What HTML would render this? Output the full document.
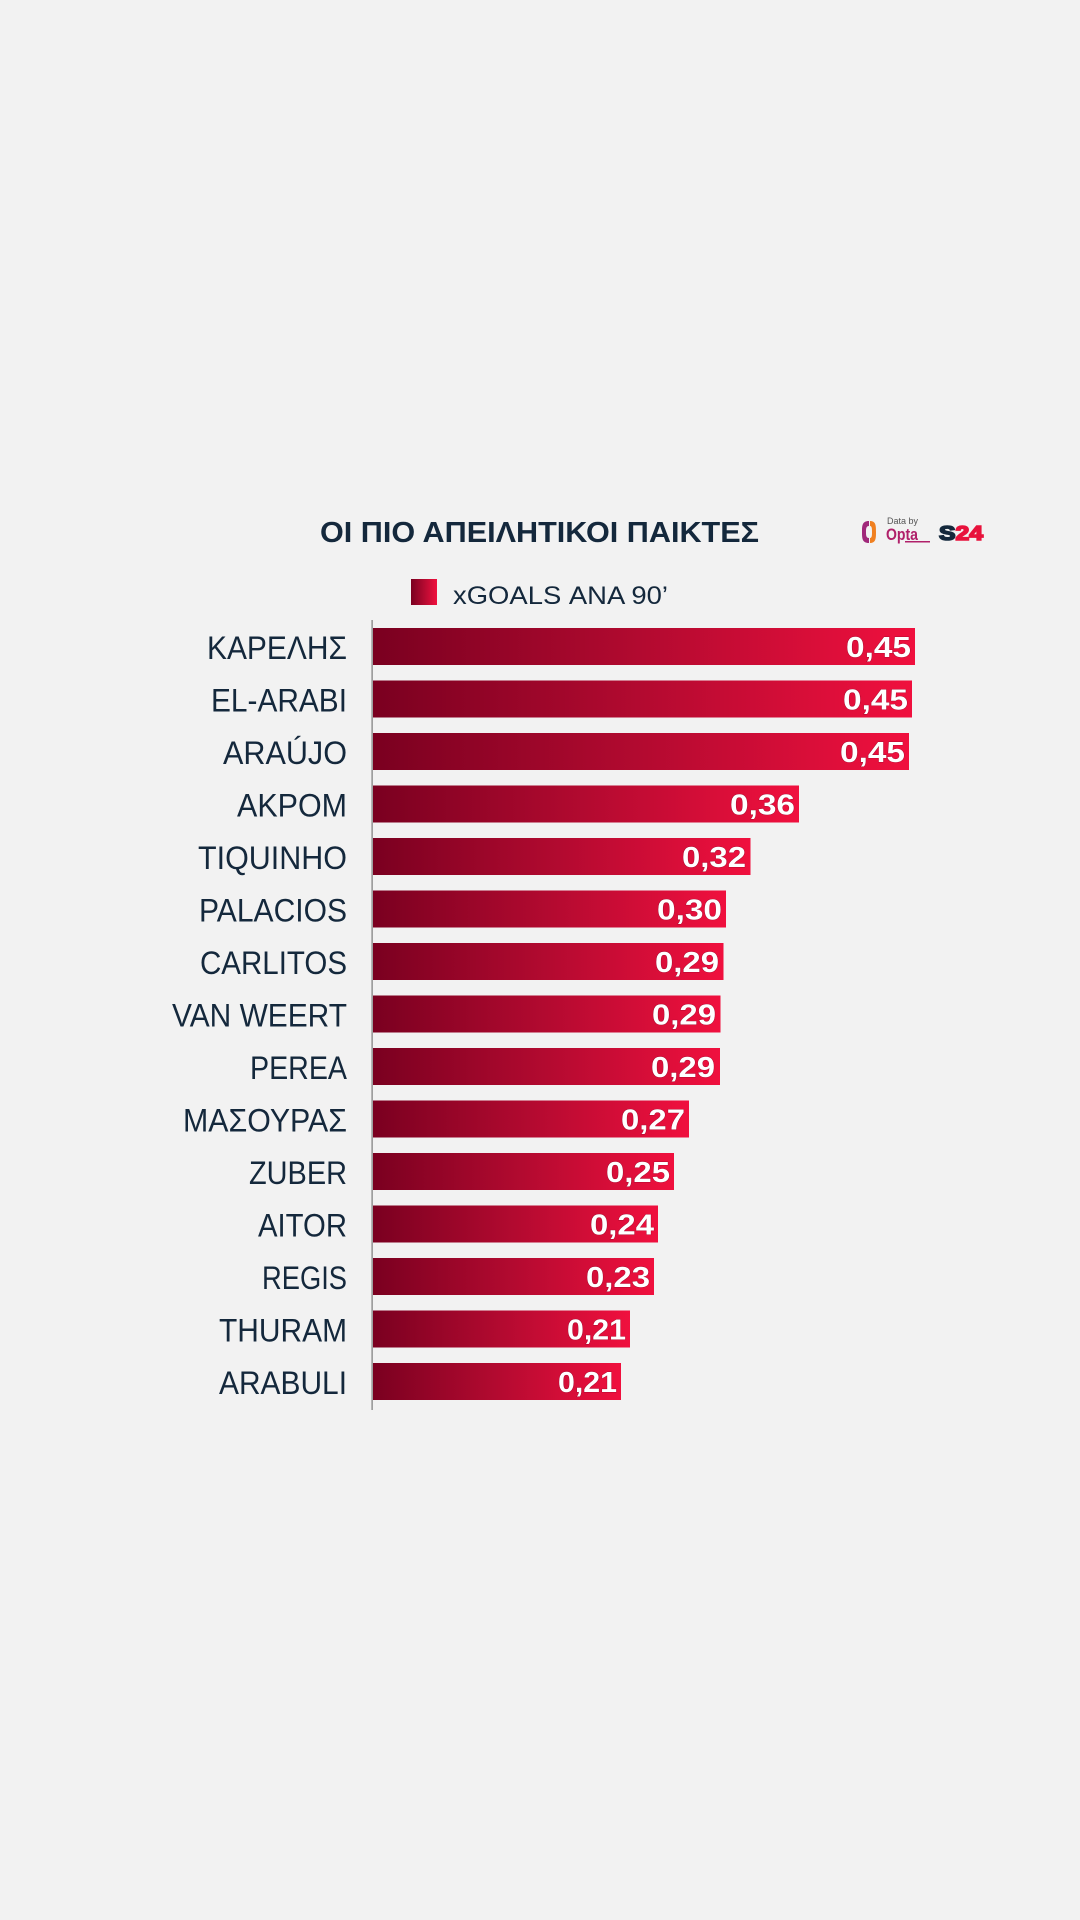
<!DOCTYPE html>
<html>
<head>
<meta charset="utf-8">
<style>
html,body{margin:0;padding:0;background:#f2f2f2;}
svg{display:block;}
</style>
</head>
<body>
<svg width="1080" height="1920" viewBox="0 0 1080 1920" xmlns="http://www.w3.org/2000/svg">
<defs>
<linearGradient id="g" x1="0" y1="0" x2="1" y2="0">
<stop offset="0" stop-color="#7a0020"/>
<stop offset="0.5" stop-color="#b30a30"/>
<stop offset="1" stop-color="#f0103e"/>
</linearGradient>
</defs>
<rect width="1080" height="1920" fill="#f2f2f2"/>

<!-- Title -->
<text x="320" y="542" font-family="Liberation Sans, sans-serif" font-weight="bold" font-size="29" fill="#14283c" textLength="439" lengthAdjust="spacingAndGlyphs">ΟΙ ΠΙΟ ΑΠΕΙΛΗΤΙΚΟΙ ΠΑΙΚΤΕΣ</text>

<!-- Logos -->
<path d="M869 521 C862 521 862 526 862 532 C862 538 862 543 869 543 L869 538 C866 538 866 535 866 532 C866 529 866 526 869 526 Z" fill="#a0287a"/>
<path d="M870 521 C876 521 876 526 876 532 C876 538 876 543 870 543 L870 538 C872 538 872 535 872 532 C872 529 872 526 870 526 Z" fill="#f08020"/>
<text x="887" y="524" font-family="Liberation Sans, sans-serif" font-size="9" fill="#555">Data by</text>
<text x="886" y="540" font-family="Liberation Sans, sans-serif" font-weight="bold" font-size="17" fill="#b0206a" textLength="32" lengthAdjust="spacingAndGlyphs">Opta</text>
<rect x="905" y="541" width="25" height="1.5" fill="#b0206a"/>
<text x="939" y="540" font-family="Liberation Sans, sans-serif" font-weight="bold" font-size="20" stroke-width="1.6" textLength="44" lengthAdjust="spacingAndGlyphs"><tspan fill="#14283c" stroke="#14283c">S</tspan><tspan fill="#e8123c" stroke="#e8123c">24</tspan></text>

<!-- Legend -->
<rect x="411" y="579" width="26" height="26" fill="url(#g)"/>
<text x="453" y="604" font-family="Liberation Sans, sans-serif" font-size="25" fill="#14283c" textLength="215" lengthAdjust="spacingAndGlyphs">xGOALS ΑΝΑ 90’</text>

<!-- Axis -->
<rect x="371.5" y="620" width="1.2" height="790" fill="#7a7a7a"/>

<g font-family="Liberation Sans, sans-serif">
<rect x="373" y="628" width="542" height="37" fill="url(#g)"/>
<text x="207" y="659" font-size="32" fill="#14283c" textLength="140" lengthAdjust="spacingAndGlyphs">ΚΑΡΕΛΗΣ</text>
<text x="846" y="657" font-size="29" font-weight="bold" fill="#fff" stroke="#6a0020" stroke-width="0.7" stroke-opacity="0.6" paint-order="stroke" textLength="65" lengthAdjust="spacingAndGlyphs">0,45</text>

<rect x="373" y="680.5" width="539" height="37" fill="url(#g)"/>
<text x="211" y="711.5" font-size="32" fill="#14283c" textLength="136" lengthAdjust="spacingAndGlyphs">EL-ARABI</text>
<text x="843" y="709.5" font-size="29" font-weight="bold" fill="#fff" stroke="#6a0020" stroke-width="0.7" stroke-opacity="0.6" paint-order="stroke" textLength="65" lengthAdjust="spacingAndGlyphs">0,45</text>

<rect x="373" y="733" width="536" height="37" fill="url(#g)"/>
<text x="223" y="764" font-size="32" fill="#14283c" textLength="124" lengthAdjust="spacingAndGlyphs">ARAÚJO</text>
<text x="840" y="762" font-size="29" font-weight="bold" fill="#fff" stroke="#6a0020" stroke-width="0.7" stroke-opacity="0.6" paint-order="stroke" textLength="65" lengthAdjust="spacingAndGlyphs">0,45</text>

<rect x="373" y="785.5" width="426" height="37" fill="url(#g)"/>
<text x="237" y="816.5" font-size="32" fill="#14283c" textLength="110" lengthAdjust="spacingAndGlyphs">AKPOM</text>
<text x="730" y="814.5" font-size="29" font-weight="bold" fill="#fff" stroke="#6a0020" stroke-width="0.7" stroke-opacity="0.6" paint-order="stroke" textLength="65" lengthAdjust="spacingAndGlyphs">0,36</text>

<rect x="373" y="838" width="377.5" height="37" fill="url(#g)"/>
<text x="198" y="869" font-size="32" fill="#14283c" textLength="149" lengthAdjust="spacingAndGlyphs">TIQUINHO</text>
<text x="682" y="867" font-size="29" font-weight="bold" fill="#fff" stroke="#6a0020" stroke-width="0.7" stroke-opacity="0.6" paint-order="stroke" textLength="64" lengthAdjust="spacingAndGlyphs">0,32</text>

<rect x="373" y="890.5" width="353" height="37" fill="url(#g)"/>
<text x="199" y="921.5" font-size="32" fill="#14283c" textLength="148" lengthAdjust="spacingAndGlyphs">PALACIOS</text>
<text x="657" y="919.5" font-size="29" font-weight="bold" fill="#fff" stroke="#6a0020" stroke-width="0.7" stroke-opacity="0.6" paint-order="stroke" textLength="65" lengthAdjust="spacingAndGlyphs">0,30</text>

<rect x="373" y="943" width="350.5" height="37" fill="url(#g)"/>
<text x="200" y="974" font-size="32" fill="#14283c" textLength="147" lengthAdjust="spacingAndGlyphs">CARLITOS</text>
<text x="655" y="972" font-size="29" font-weight="bold" fill="#fff" stroke="#6a0020" stroke-width="0.7" stroke-opacity="0.6" paint-order="stroke" textLength="64" lengthAdjust="spacingAndGlyphs">0,29</text>

<rect x="373" y="995.5" width="347.5" height="37" fill="url(#g)"/>
<text x="172" y="1026.5" font-size="32" fill="#14283c" textLength="175" lengthAdjust="spacingAndGlyphs">VAN WEERT</text>
<text x="652" y="1024.5" font-size="29" font-weight="bold" fill="#fff" stroke="#6a0020" stroke-width="0.7" stroke-opacity="0.6" paint-order="stroke" textLength="64" lengthAdjust="spacingAndGlyphs">0,29</text>

<rect x="373" y="1048" width="347" height="37" fill="url(#g)"/>
<text x="250" y="1079" font-size="32" fill="#14283c" textLength="97" lengthAdjust="spacingAndGlyphs">PEREA</text>
<text x="651" y="1077" font-size="29" font-weight="bold" fill="#fff" stroke="#6a0020" stroke-width="0.7" stroke-opacity="0.6" paint-order="stroke" textLength="64" lengthAdjust="spacingAndGlyphs">0,29</text>

<rect x="373" y="1100.5" width="316" height="37" fill="url(#g)"/>
<text x="183" y="1131.5" font-size="32" fill="#14283c" textLength="164" lengthAdjust="spacingAndGlyphs">ΜΑΣΟΥΡΑΣ</text>
<text x="621" y="1129.5" font-size="29" font-weight="bold" fill="#fff" stroke="#6a0020" stroke-width="0.7" stroke-opacity="0.6" paint-order="stroke" textLength="64" lengthAdjust="spacingAndGlyphs">0,27</text>

<rect x="373" y="1153" width="301" height="37" fill="url(#g)"/>
<text x="249" y="1184" font-size="32" fill="#14283c" textLength="98" lengthAdjust="spacingAndGlyphs">ZUBER</text>
<text x="606" y="1182" font-size="29" font-weight="bold" fill="#fff" stroke="#6a0020" stroke-width="0.7" stroke-opacity="0.6" paint-order="stroke" textLength="64" lengthAdjust="spacingAndGlyphs">0,25</text>

<rect x="373" y="1205.5" width="285" height="37" fill="url(#g)"/>
<text x="258" y="1236.5" font-size="32" fill="#14283c" textLength="89" lengthAdjust="spacingAndGlyphs">AITOR</text>
<text x="590" y="1234.5" font-size="29" font-weight="bold" fill="#fff" stroke="#6a0020" stroke-width="0.7" stroke-opacity="0.6" paint-order="stroke" textLength="64" lengthAdjust="spacingAndGlyphs">0,24</text>

<rect x="373" y="1258" width="281" height="37" fill="url(#g)"/>
<text x="262" y="1289" font-size="32" fill="#14283c" textLength="85" lengthAdjust="spacingAndGlyphs">REGIS</text>
<text x="586" y="1287" font-size="29" font-weight="bold" fill="#fff" stroke="#6a0020" stroke-width="0.7" stroke-opacity="0.6" paint-order="stroke" textLength="64" lengthAdjust="spacingAndGlyphs">0,23</text>

<rect x="373" y="1310.5" width="257" height="37" fill="url(#g)"/>
<text x="219" y="1341.5" font-size="32" fill="#14283c" textLength="128" lengthAdjust="spacingAndGlyphs">THURAM</text>
<text x="567" y="1339.5" font-size="29" font-weight="bold" fill="#fff" stroke="#6a0020" stroke-width="0.7" stroke-opacity="0.6" paint-order="stroke" textLength="59" lengthAdjust="spacingAndGlyphs">0,21</text>

<rect x="373" y="1363" width="248" height="37" fill="url(#g)"/>
<text x="219" y="1394" font-size="32" fill="#14283c" textLength="128" lengthAdjust="spacingAndGlyphs">ARABULI</text>
<text x="558" y="1392" font-size="29" font-weight="bold" fill="#fff" stroke="#6a0020" stroke-width="0.7" stroke-opacity="0.6" paint-order="stroke" textLength="59" lengthAdjust="spacingAndGlyphs">0,21</text>
</g>
</svg>
</body>
</html>
